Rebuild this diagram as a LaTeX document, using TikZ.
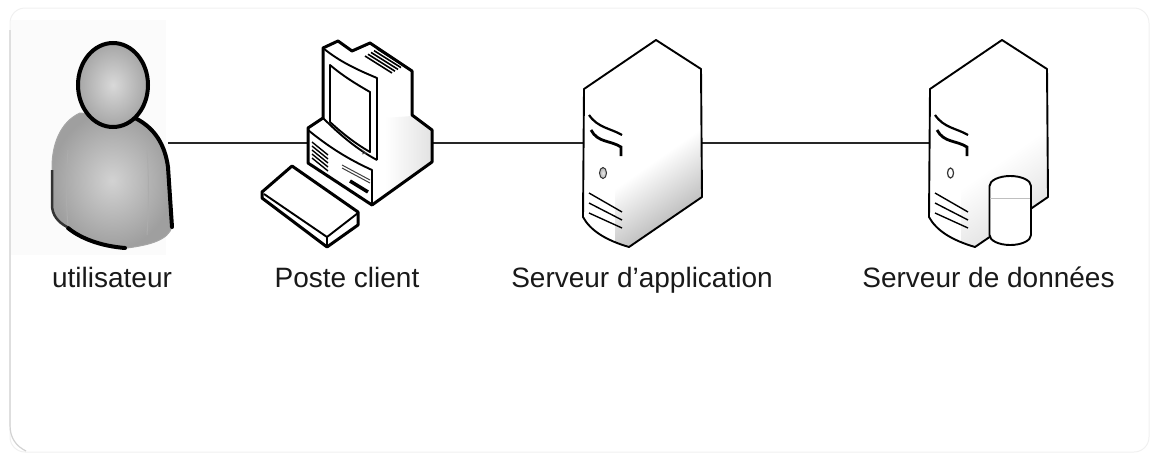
\documentclass[tikz,border=0pt]{standalone}
\usepackage{fontspec}
\setmainfont{Liberation Sans}
\usepackage{xcolor}
\usepackage{tikz}
\usetikzlibrary{positioning}

\tikzset{
  icon/.style={rectangle, inner sep=0pt, minimum height=100pt},
  caption/.style={anchor=base, text=black!90, font=\fontsize{28}{30}\selectfont},
  wire/.style={draw=black!85, line width=1.4pt},
  outline/.style={draw=black, line width=1.9pt, line join=round},
  thickoutline/.style={draw=black, line width=3pt, line join=round},
  heavyoutline/.style={draw=black, line width=4pt, line cap=round},
}

% #1 = shading strength on the side of the tower
\newcommand{\towershape}[1]{
  \fill[white] (584,89) -- (656,40) -- (701,69) -- (702,197) -- (629,247) .. controls (605,240) and (590,230) .. (583,217) -- cycle;
  \begin{scope}
    \clip (584,89) -- (656,40) -- (701,69) -- (702,197) -- (629,247) .. controls (605,240) and (590,230) .. (583,217) -- cycle;
    \shade[top color=white, bottom color=gray!#1, shading angle=35, middle color=white] (615,69) rectangle (702,247);
  \end{scope}
  \draw[outline] (584,89) -- (656,40) -- (701,69) -- (702,197) -- (629,247) .. controls (605,240) and (590,230) .. (583,217) -- cycle;
  \draw[line width=2.2pt] (589,115) .. controls (598,128) and (610,128) .. (622,135);
  \draw[line width=2.8pt] (591,130) .. controls (598,143) and (610,140) .. (621,147) -- (621,156);
  \foreach \i in {0,10,20} {
    \draw[line width=1.4pt] (589,193+\i) -- (622,212+\i*0.8);
  }
}

\begin{document}
\begin{tikzpicture}[x=1pt, y=-1pt]
\useasboundingbox (0,0) rectangle (1150,453);

% frame
\draw[gray!12, line width=1pt, rounded corners=15pt] (10,8) rectangle (1149,452);
\draw[gray!35, line width=1.2pt] (10,30) -- (10,425) .. controls (10,438) and (16,446) .. (26,451);
\fill[gray!3] (11,20) rectangle (166,255);

% nodes for the connectors
\node (user) [icon, minimum width=116pt] at (110,143) {};
\node (client) [icon, minimum width=124pt] at (370,143) {};
\node (appserver) [icon, minimum width=117pt] at (642.5,143) {};
\node (dbserver) [icon, minimum width=118pt] at (989,143) {};

\draw[wire] (user) -- (client);
\draw[wire] (client) -- (appserver);
\draw[wire] (appserver) -- (dbserver);

% user
\shade[inner color=gray!35, outer color=gray!75, draw=gray!70, line width=1pt]
  (135,118) .. controls (155,128) and (165,145) .. (168,167)
  -- (172,227) .. controls (168,240) and (150,245) .. (127,248)
  .. controls (100,247) and (75,238) .. (67,227)
  .. controls (58,222) and (52,215) .. (52,205)
  -- (52,167) .. controls (52,145) and (60,122) .. (80,113) -- cycle;
\draw[gray!65, line width=1pt] (68,150) .. controls (66,180) and (66,205) .. (68,225);
\draw[gray!65, line width=1pt] (147,150) .. controls (149,180) and (149,205) .. (147,235);
\draw[heavyoutline] (135,118) .. controls (155,128) and (165,145) .. (168,167) -- (172,227);
\draw[heavyoutline] (68,228) .. controls (80,238) and (100,246) .. (125,248);
\draw[black!80, line width=2.5pt] (52,170) -- (52,205) .. controls (52,215) and (58,222) .. (67,227);
\shade[inner color=gray!30, outer color=gray!70, draw=black, line width=4pt] (113,85) ellipse (35pt and 42pt);

% client
\fill[white] (323,48) -- (338,41) -- (352,51) -- (370,43) -- (412,71) -- (412,115) -- (432,130) -- (432,162) -- (372,205) -- (308,163) -- (308,128) -- (323,118) -- cycle;
\shade[left color=white, right color=gray!22] (385,118) -- (412,116) -- (431,130) -- (431,161) -- (385,195) -- cycle;
\draw[thickoutline] (323,48) -- (338,41) -- (352,51) -- (370,43) -- (412,71) -- (412,115) -- (432,130) -- (432,162) -- (372,205) -- (308,163) -- (308,128) -- (323,118) -- cycle;
\draw[outline] (323,48) .. controls (340,62) and (358,70) .. (377,78) -- (377,160);
\draw[outline] (323,118) .. controls (340,135) and (358,150) .. (377,160);
\draw[outline] (330,65) .. controls (343,76) and (356,84) .. (370,92) -- (370,152) .. controls (356,144) and (343,134) .. (330,122) -- cycle;
\draw[outline] (308,130) .. controls (330,148) and (350,160) .. (372,170) -- (372,205);
\foreach \i in {0,3,6,9,12} {
  \draw[line width=1.6pt] (365+\i,56-\i*0.6) -- (392+\i,73-\i*0.6);
}
\foreach \i in {0,4,8,12,16} {
  \draw[line width=1.4pt] (312,142+\i) -- (328,155+\i);
}
\draw[black!75, line width=1pt] (342,165) -- (370,180);
\draw[black!75, line width=1pt] (342,168) -- (370,183);
\draw[line width=3.5pt] (350,181) -- (368,192);
\draw[black!70, line width=0.8pt] (362,150) -- (366,153) -- (362,154);
% keyboard
\fill[white] (262,192) -- (292,166) -- (358,212) -- (358,225) -- (327,247) -- (262,198) -- cycle;
\draw[thickoutline] (262,192) -- (292,166) -- (358,212) -- (358,225) -- (327,247) -- (262,198) -- cycle;
\draw[outline] (264,194) -- (327,237) -- (327,247);
\draw[outline] (327,237) -- (358,213);

% application server
\towershape{60}
\shade[inner color=gray!20, outer color=gray!60, draw=black!80, line width=1pt] (603,173) ellipse (3.5pt and 5.5pt);

% database server
\begin{scope}[shift={(346,0)}]
\towershape{25}
\draw[black!80, line width=1.2pt] (604.5,173) ellipse (3pt and 5pt);
\end{scope}
\fill[white] (989.5,186) arc[start angle=180, end angle=0, x radius=20.75pt, y radius=10pt] -- (1031,235) arc[start angle=0, end angle=-180, x radius=20.75pt, y radius=10pt] -- cycle;
\draw[outline] (989.5,186) arc[start angle=180, end angle=0, x radius=20.75pt, y radius=10pt] -- (1031,235) arc[start angle=0, end angle=-180, x radius=20.75pt, y radius=10pt] -- cycle;
\draw[gray!50, line width=0.6pt] (990,198) -- (1030,198);

% captions
\node (usertext) [caption] at (112,287) {utilisateur};
\node (clienttext) [caption] at (347,287) {Poste client};
\node (apptext) [caption] at (642,287) {Serveur d’application};
\node (dbtext) [caption] at (988.5,287) {Serveur de données};
\end{tikzpicture}
\end{document}
